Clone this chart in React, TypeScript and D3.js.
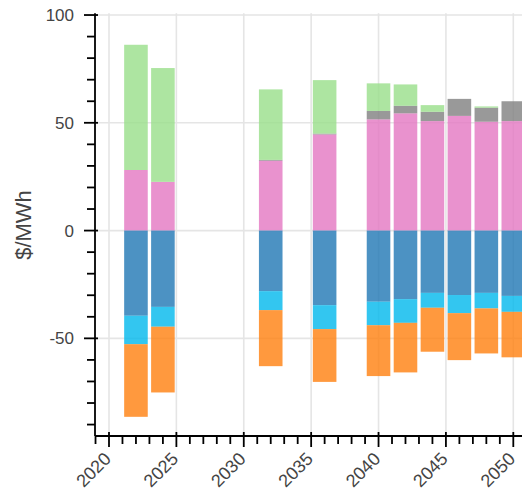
import React from "react";
import * as d3 from "d3";

const years = [2022, 2024, 2032, 2036, 2040, 2042, 2044, 2046, 2048, 2050];
const pink = [28.1, 22.6, 32.4, 44.6, 51.6, 54.4, 50.8, 53.2, 50.5, 50.8];
const gray = [0, 0, 0.4, 0.4, 3.9, 3.5, 4.3, 7.9, 6.5, 9.2];
const green = [58.1, 52.8, 32.7, 24.8, 12.8, 9.9, 3.1, 0, 0.6, 0];
const blue = [-39.5, -35.4, -28.1, -34.6, -33.0, -31.8, -28.9, -29.9, -28.9, -30.3];
const lightblue = [-13.2, -9.2, -8.8, -11.1, -10.9, -11.0, -6.9, -8.4, -7.2, -7.4];
const orange = [-33.7, -30.5, -26.0, -24.5, -23.6, -23.0, -20.4, -21.8, -20.9, -21.1];

const seriesKeys = ["pink", "gray", "green", "blue", "lightblue", "orange"];
const seriesColors: Record<string, string> = {
  pink: "#e377c2",
  gray: "#7f7f7f",
  green: "#98df8a",
  blue: "#1f77b4",
  lightblue: "#00b8ec",
  orange: "#ff7f0e",
};

const xMajorTicks = [2020, 2025, 2030, 2035, 2040, 2045, 2050];
const yMajorTicks = [100, 50, 0, -50];

const W = 522;
const H = 491;
const plotLeft = 95;
const plotTop = 13.3;
const plotBottom = 436;

export default function App() {
  const rows = years.map((y, i) => ({
    year: y,
    pink: pink[i],
    gray: gray[i],
    green: green[i],
    blue: blue[i],
    lightblue: lightblue[i],
    orange: orange[i],
  }));
  const stacked = d3
    .stack<any>()
    .keys(seriesKeys)
    .offset(d3.stackOffsetDiverging)(rows);

  const x = d3.scaleLinear().domain([2020, 2050]).range([109, 513.3]);
  const y = d3.scaleLinear().domain([-95.3, 100.8]).range([plotBottom, plotTop]);
  const barW = 1.75;

  const xMinor = d3.range(2019, 2051);
  const yMinor = d3.range(-90, 101, 10).filter((v) => v % 50 !== 0);

  const font = "'Liberation Sans', Arial, Helvetica, sans-serif";

  return (
    <svg
      width={W}
      height={H}
      style={{ position: "absolute", left: 0, top: 0, background: "#fff" }}
    >
      {/* grid */}
      {yMajorTicks.map((t) => (
        <line key={"gy" + t} x1={plotLeft} x2={W} y1={y(t)} y2={y(t)} stroke="#e5e5e5" strokeWidth={1.6} />
      ))}
      {xMajorTicks.map((t) => (
        <line key={"gx" + t} x1={x(t)} x2={x(t)} y1={plotTop} y2={plotBottom} stroke="#e5e5e5" strokeWidth={1.6} />
      ))}
      {/* bars */}
      {stacked.map((s) => (
        <g key={s.key} fill={seriesColors[s.key]} fillOpacity={0.8}>
          {s.map((d, i) =>
            d[1] - d[0] === 0 ? null : (
              <rect
                key={i}
                x={x(d.data.year - barW / 2)}
                width={x(d.data.year + barW / 2) - x(d.data.year - barW / 2)}
                y={y(Math.max(d[0], d[1]))}
                height={Math.abs(y(d[0]) - y(d[1]))}
              />
            )
          )}
        </g>
      ))}
      {/* y axis */}
      <line x1={plotLeft} x2={plotLeft} y1={plotTop} y2={plotBottom} stroke="#000" strokeWidth={1.8} />
      {yMajorTicks.map((t) => (
        <g key={"yt" + t}>
          <line x1={plotLeft - 11} x2={plotLeft + 3} y1={y(t)} y2={y(t)} stroke="#000" strokeWidth={1.8} />
          <text x={74} y={y(t)} dy="0.36em" textAnchor="end" fontSize={17} fill="#444" fontFamily={font}>
            {t}
          </text>
        </g>
      ))}
      {yMinor.map((t) => (
        <line key={"ym" + t} x1={plotLeft - 8} x2={plotLeft} y1={y(t)} y2={y(t)} stroke="#000" strokeWidth={1.8} />
      ))}
      <text
        transform={`translate(31,225) rotate(-90)`}
        textAnchor="middle"
        fontSize={22}
        fill="#444"
        fontFamily={font}
      >
        $/MWh
      </text>
      {/* x axis */}
      <line x1={plotLeft} x2={W} y1={plotBottom} y2={plotBottom} stroke="#000" strokeWidth={1.8} />
      {xMinor
        .filter((t) => t % 5 !== 0)
        .map((t) => (
          <line key={"xm" + t} x1={x(t)} x2={x(t)} y1={plotBottom} y2={plotBottom + 8} stroke="#000" strokeWidth={1.8} />
        ))}
      {xMajorTicks.map((t) => (
        <g key={"xt" + t}>
          <line x1={x(t)} x2={x(t)} y1={plotBottom - 4} y2={plotBottom + 11} stroke="#000" strokeWidth={1.8} />
          <text
            transform={`translate(${x(t) + 3},${460}) rotate(-45)`}
            textAnchor="end"
            fontSize={18}
            fill="#444"
            fontFamily={font}
          >
            {t}
          </text>
        </g>
      ))}
    </svg>
  );
}
